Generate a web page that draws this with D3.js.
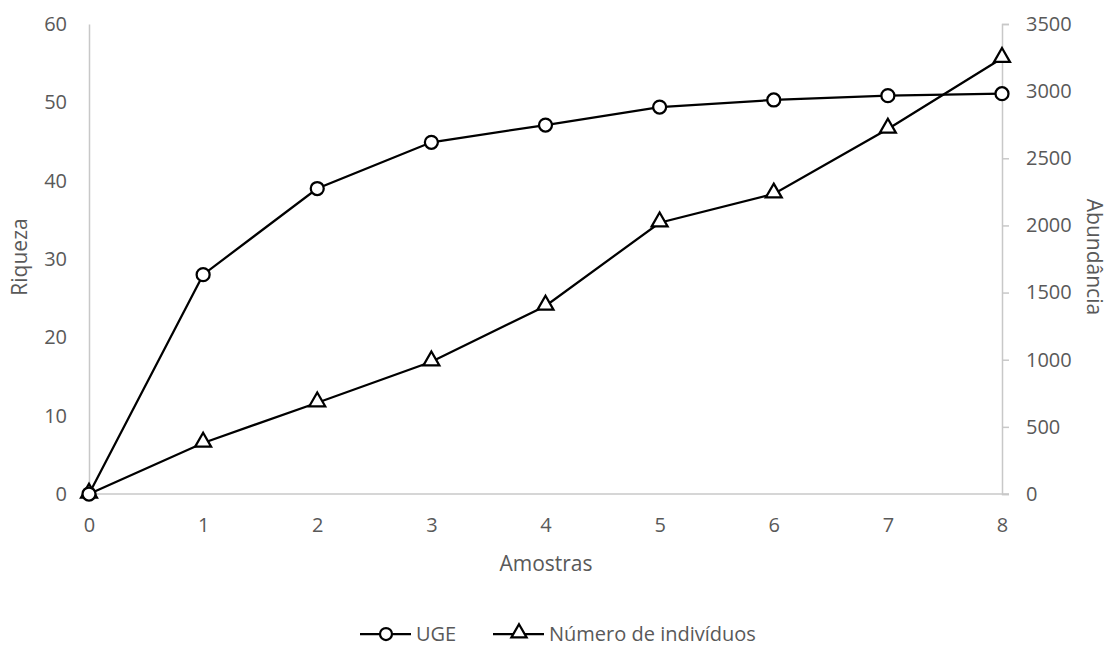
<!DOCTYPE html>
<html>
<head>
<meta charset="utf-8">
<script src="https://cdn.jsdelivr.net/npm/d3@7"></script>
<style>
  body { margin: 0; background: #fff; }
  text { font-family: "Open Sans", "Liberation Sans", sans-serif; fill: #595959; }
</style>
</head>
<body>
<div class="container"></div>
<script>
// data
var amostras = [0, 1, 2, 3, 4, 5, 6, 7, 8];
var uge = [0, 28, 39, 44.9, 47.1, 49.4, 50.3, 50.85, 51.1];
var individuos = [0, 380, 680, 985, 1400, 2020, 2235, 2718, 3245];
var leftTicks = [0, 10, 20, 30, 40, 50, 60];
var rightTicks = [0, 500, 1000, 1500, 2000, 2500, 3000, 3500];
var seriesNames = ["UGE", "Número de indivíduos"];

var width = 1108, height = 646;
var plotLeft = 89, plotRight = 1002, plotTop = 24, plotBottom = 494;

var svg = d3.select(".container").append('svg')
  .attr('width', width)
  .attr('height', height);

var x = d3.scaleLinear().domain([0, 8]).range([plotLeft, plotRight]);
var yL = d3.scaleLinear().domain([0, 60]).range([plotBottom, plotTop]);
var yR = d3.scaleLinear().domain([0, 3500]).range([plotBottom, plotTop]);

// left axis (no tick marks)
var axL = svg.append('g').attr('transform', 'translate(' + plotLeft + ',0)')
  .call(d3.axisLeft(yL).tickValues(leftTicks).tickSize(0).tickPadding(22).tickFormat(d3.format('d')));
// right axis
var axR = svg.append('g').attr('transform', 'translate(' + plotRight + ',0)')
  .call(d3.axisRight(yR).tickValues(rightTicks).tickSize(7).tickPadding(17).tickFormat(d3.format('d')));
// bottom axis
var axB = svg.append('g').attr('transform', 'translate(0,' + plotBottom + ')')
  .call(d3.axisBottom(x).tickValues(amostras).tickSize(0).tickPadding(24).tickFormat(d3.format('d')));

[axL, axR, axB].forEach(function(a){
  a.attr('font-family', null).attr('font-size', null);
  a.select('.domain').attr('stroke', '#c8c8c8').attr('stroke-width', 1.5);
  a.selectAll('.tick line').attr('stroke', '#c8c8c8').attr('stroke-width', 1.5);
  a.selectAll('.tick text').style('font-size', '20px').style('fill', '#595959');
});
axB.select('.domain').attr('d', 'M' + plotLeft + ',0H' + (plotRight + 7));

// axis titles
svg.append('text').attr('transform', 'translate(27,' + 257 + ') rotate(-90)')
  .attr('text-anchor', 'middle').style('font-size', '21px').text('Riqueza');
svg.append('text').attr('transform', 'translate(1087,' + 257 + ') rotate(90)')
  .attr('text-anchor', 'middle').style('font-size', '21px').text('Abundância');
svg.append('text').attr('x', 546).attr('y', 571)
  .attr('text-anchor', 'middle').style('font-size', '21px').text('Amostras');

var lineL = d3.line().x(function(d, i){ return x(amostras[i]); }).y(function(d){ return yL(d); });
var lineR = d3.line().x(function(d, i){ return x(amostras[i]); }).y(function(d){ return yR(d); });

svg.append('path').datum(individuos).attr('d', lineR)
  .attr('fill', 'none').attr('stroke', '#000').attr('stroke-width', 2.25);
svg.append('path').datum(uge).attr('d', lineL)
  .attr('fill', 'none').attr('stroke', '#000').attr('stroke-width', 2.25);

var tri = d3.symbol().type(d3.symbolTriangle).size(110);

svg.selectAll('.tri').data(individuos).enter()
  .append('path').attr('class', 'tri')
  .attr('d', tri)
  .attr('transform', function(d, i){ return 'translate(' + x(amostras[i]) + ',' + (yR(d) - 1) + ')'; })
  .attr('fill', '#fff').attr('stroke', '#000').attr('stroke-width', 2.25);

svg.selectAll('.circ').data(uge).enter()
  .append('circle').attr('class', 'circ')
  .attr('r', 6.5)
  .attr('cx', function(d, i){ return x(amostras[i]); })
  .attr('cy', function(d){ return yL(d); })
  .attr('fill', '#fff').attr('stroke', '#000').attr('stroke-width', 2.25);

// legend
var lg = svg.append('g').attr('transform', 'translate(0,634)');
var items = [{x: 360, name: seriesNames[0], shape: 'circle'}, {x: 493, name: seriesNames[1], shape: 'tri'}];
items.forEach(function(it){
  lg.append('line').attr('x1', it.x).attr('x2', it.x + 51).attr('y1', 0).attr('y2', 0)
    .attr('stroke', '#000').attr('stroke-width', 2.25);
  if (it.shape === 'circle') {
    lg.append('circle').attr('cx', it.x + 26).attr('cy', 0).attr('r', 6)
      .attr('fill', '#fff').attr('stroke', '#000').attr('stroke-width', 2.25);
  } else {
    lg.append('path').attr('d', d3.symbol().type(d3.symbolTriangle).size(100))
      .attr('transform', 'translate(' + (it.x + 26) + ',-1)')
      .attr('fill', '#fff').attr('stroke', '#000').attr('stroke-width', 2.25);
  }
  lg.append('text').attr('x', it.x + 56).attr('y', 7).style('font-size', '20px').text(it.name);
});
</script>
</body>
</html>
